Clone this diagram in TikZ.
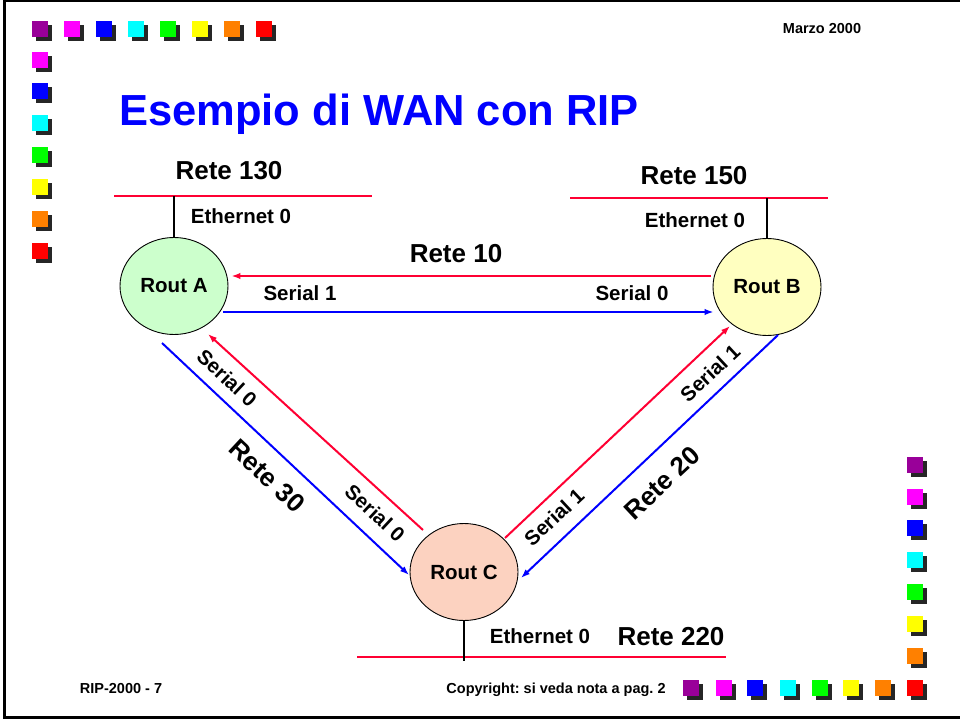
\documentclass[tikz,border=0pt]{standalone}
\usepackage{fontspec}
\setmainfont{Liberation Sans}
\usetikzlibrary{arrows.meta,shapes.geometric}
\frenchspacing

\definecolor{sqpurple}{RGB}{153,0,153}
\definecolor{sqmagenta}{RGB}{255,0,255}
\definecolor{sqblue}{RGB}{0,0,255}
\definecolor{sqcyan}{RGB}{0,255,255}
\definecolor{sqgreen}{RGB}{0,255,0}
\definecolor{sqyellow}{RGB}{255,255,0}
\definecolor{sqorange}{RGB}{255,128,0}
\definecolor{sqred}{RGB}{255,0,0}
\definecolor{sqshade}{RGB}{38,38,38}
\definecolor{netred}{RGB}{255,0,51}
\definecolor{linkblue}{RGB}{0,0,255}
\definecolor{fillA}{RGB}{204,255,204}
\definecolor{fillB}{RGB}{255,255,192}
\definecolor{fillC}{RGB}{252,210,192}

% one coloured square with its drop shadow
\newcommand{\colsq}[3]{%
  \fill[sqshade] (#1+4,#2+4) rectangle ++(16,16);
  \fill[#3] (#1,#2) rectangle ++(16,16);}

\tikzset{
  router/.style={ellipse, draw=black, line width=0.9pt, minimum width=108pt,
    minimum height=97pt, inner sep=0pt, font=\fontsize{20.5}{24}\selectfont\bfseries},
  lbl/.style={inner sep=0pt, font=\fontsize{20.5}{24}\selectfont\bfseries},
  netlbl/.style={inner sep=0pt, font=\fontsize{26}{30}\selectfont\bfseries},
  footlbl/.style={inner sep=0pt, font=\fontsize{14.5}{17}\selectfont\bfseries},
  netline/.style={draw=netred, line width=2.4pt},
  tap/.style={draw=black, line width=2pt},
  redlink/.style={draw=netred, line width=2pt, -{Latex[length=9pt,width=6.5pt]}},
  bluelink/.style={draw=linkblue, line width=2pt, -{Latex[length=9pt,width=6.5pt]}},
}

\begin{document}
\begin{tikzpicture}[x=1pt,y=-1pt]
\useasboundingbox (0,0) rectangle (960,719);

% page frame
\draw[black, line width=2.5pt] (962,1.2) -- (4.5,1.2) -- (4.5,717.5) -- (962,717.5);

% decorative squares: top row and left column
\colsq{32}{21}{sqpurple}
\colsq{64}{21}{sqmagenta}
\colsq{96}{21}{sqblue}
\colsq{128}{21}{sqcyan}
\colsq{160}{21}{sqgreen}
\colsq{192}{21}{sqyellow}
\colsq{224}{21}{sqorange}
\colsq{256}{21}{sqred}
\colsq{32}{52}{sqmagenta}
\colsq{32}{83}{sqblue}
\colsq{32}{115}{sqcyan}
\colsq{32}{147}{sqgreen}
\colsq{32}{179}{sqyellow}
\colsq{32}{211}{sqorange}
\colsq{32}{243}{sqred}
% bottom row and right column
\colsq{683}{680}{sqpurple}
\colsq{716}{680}{sqmagenta}
\colsq{747}{680}{sqblue}
\colsq{780}{680}{sqcyan}
\colsq{812}{680}{sqgreen}
\colsq{843}{680}{sqyellow}
\colsq{875}{680}{sqorange}
\colsq{907}{680}{sqred}
\colsq{907}{457}{sqpurple}
\colsq{907}{489}{sqmagenta}
\colsq{907}{520}{sqblue}
\colsq{907}{552}{sqcyan}
\colsq{907}{584}{sqgreen}
\colsq{907}{616}{sqyellow}
\colsq{907}{648}{sqorange}

% header and footer
\node[footlbl] (date) at (822,28.5) {Marzo 2000};
\node[inner sep=0pt, anchor=base west, text=linkblue,
  font=\fontsize{43.5}{50}\selectfont\bfseries] (title) at (119,126) {Esempio di WAN con RIP};
\node[footlbl, anchor=base] (code) at (121,693) {RIP-2000 - 7};
\node[footlbl, anchor=base] (copy) at (556,693) {Copyright: si veda nota a pag. 2};

% routers
\node[router, fill=fillA] (ra) at (174,286) {Rout A};
\node[router, fill=fillB] (rb) at (767,287) {Rout B};
\node[router, fill=fillC] (rc) at (464,572) {Rout C};

% LAN segments
\coordinate (n130w) at (114,196);
\coordinate (n130e) at (372,196);
\coordinate (n150w) at (570,198);
\coordinate (n150e) at (828,198);
\coordinate (n220w) at (357,657);
\coordinate (n220e) at (726,657);
\draw[netline] (n130w) -- (n130e);
\draw[netline] (n150w) -- (n150e);
\draw[netline] (n220w) -- (n220e);
\draw[tap] (ra.north) -- (ra.north |- n130w);
\draw[tap] (rb.north) -- (rb.north |- n150w);
\draw[tap] (rc.south) -- ([yshift=-4pt]rc.south |- n220w);

\node[netlbl] (l130) at (229,171) {Rete 130};
\node[netlbl] (l150) at (694,176) {Rete 150};
\node[netlbl] (l220) at (671,637) {Rete 220};
\node[lbl] (ea) at (241,216) {Ethernet 0};
\node[lbl] (eb) at (695,220) {Ethernet 0};
\node[lbl] (ec) at (540,636) {Ethernet 0};

% serial link A--B
\draw[redlink] ([shift={(-2,-11)}]rb.west) -- ([shift={(3,-10)}]ra.east);
\draw[bluelink] ([shift={(-5,26)}]ra.east) -- ([shift={(1,25)}]rb.west);
\node[netlbl] (l10) at (456,254) {Rete 10};
\node[lbl] (sa1) at (300,293) {Serial 1};
\node[lbl] (sb0) at (632,293) {Serial 0};

% serial link A--C
\draw[bluelink] ([shift={(-12,57)}]ra.center) -- ([shift={(-55,3)}]rc.center);
\draw[redlink] ([shift={(-41,-42)}]rc.center) -- ([shift={(34,48)}]ra.center);
\node[lbl, rotate=-43] (sa0) at (227,378) {Serial 0};
\node[netlbl, rotate=-43] (l30) at (267,476) {Rete 30};
\node[lbl, rotate=-43] (sc0) at (375,513) {Serial 0};

% serial link B--C
\draw[redlink] ([shift={(41,-34)}]rc.center) -- ([shift={(-37,39)}]rb.center);
\draw[bluelink] ([shift={(11,48)}]rb.center) -- ([shift={(57,6)}]rc.center);
\node[lbl, rotate=43] (sb1) at (710,373) {Serial 1};
\node[netlbl, rotate=43] (l20) at (662,483) {Rete 20};
\node[lbl, rotate=43] (sc1) at (554,517) {Serial 1};
\end{tikzpicture}
\end{document}
